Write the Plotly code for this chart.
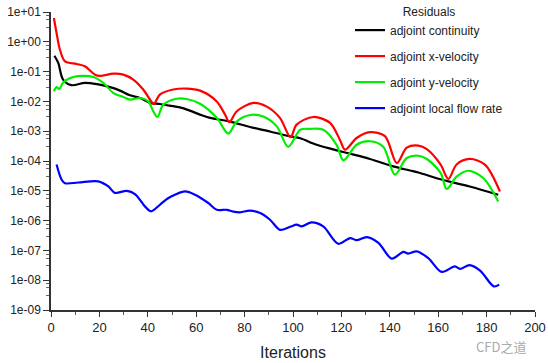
import plotly.graph_objects as go

# ---- data ----
cont_x = [1.4, 3, 5, 8.5, 14, 19, 24.4, 28.5, 32.6, 36.8, 41, 45, 49, 53.3, 57.4, 61.6, 65.7, 74, 82.2, 90.5, 98.8, 103, 109.8, 120.8, 131.8, 141.4, 148.3, 151.8, 162, 173, 184.8]
cont_y = [0.34, 0.195, 0.054, 0.035, 0.042, 0.038, 0.030, 0.023, 0.016, 0.013, 0.0089, 0.0082, 0.0072, 0.0063, 0.0049, 0.0036, 0.0028, 0.0021, 0.00138, 0.00098, 0.00067, 0.00058, 0.00035, 0.0002, 0.000117, 6.6e-5, 4.8e-5, 4.1e-5, 2.3e-5, 1.4e-5, 7.4e-6]

xvel_x = [1.2, 2.3, 3.7, 5.8, 10.6, 14, 18.2, 20.2, 25.8, 29.9, 34, 38.1, 41.6, 42.5, 45, 50.5, 56, 61.6, 68.5, 72, 73.7, 76.7, 83.6, 89, 94.6, 99, 101.5, 108.4, 115.3, 119.4, 121.5, 126.3, 131.8, 138, 142.9, 147, 151.8, 155.3, 161, 164.2, 167.6, 173, 179.3, 185.5]
xvel_y = [6.3, 1.97, 0.54, 0.22, 0.18, 0.15, 0.079, 0.072, 0.085, 0.079, 0.054, 0.025, 0.0095, 0.0081, 0.017, 0.025, 0.027, 0.023, 0.01, 0.0035, 0.002, 0.0046, 0.0089, 0.0068, 0.0028, 0.00063, 0.00166, 0.003, 0.0019, 0.00051, 0.00024, 0.00059, 0.00093, 0.00068, 8.5e-5, 0.00028, 0.00033, 0.00025, 7.6e-5, 2.5e-5, 7.6e-5, 0.000117, 7.6e-5, 9.5e-6]

yvel_x = [1.2, 2.3, 3.4, 5.1, 9.2, 13.4, 17.5, 21.6, 25.8, 29.9, 32.6, 36.8, 40.2, 42.3, 44, 46.4, 52, 56, 61.6, 68.5, 73.3, 76.7, 82.2, 87.7, 93.3, 98, 103, 107, 112.5, 118, 120.8, 126.3, 131.8, 137.3, 142.1, 147, 151.8, 155.3, 161, 163.5, 167.6, 172.4, 178.6, 184.8]
yvel_y = [0.022, 0.030, 0.026, 0.044, 0.066, 0.072, 0.066, 0.042, 0.019, 0.014, 0.0115, 0.013, 0.01, 0.0046, 0.003, 0.0078, 0.0123, 0.012, 0.0083, 0.0028, 0.00083, 0.0021, 0.0035, 0.0031, 0.00145, 0.0003, 0.00112, 0.0012, 0.00112, 0.00035, 0.000105, 0.00035, 0.00046, 0.0003, 3.5e-5, 0.000126, 0.00015, 0.000117, 4e-5, 1.15e-5, 3e-5, 4.7e-5, 2.7e-5, 4.4e-6]

flow_x = [2.3, 4.4, 5.8, 11.3, 19.5, 23.7, 26.4, 31.3, 34.7, 38.8, 41.3, 45, 48.2, 51.2, 55.4, 59.5, 65, 68.5, 72.6, 75.3, 78.1, 82.2, 86.4, 90.5, 94.6, 98.8, 101.5, 103.6, 107.7, 112.5, 118.7, 123.6, 126.3, 130.5, 135.3, 140.8, 145.6, 147.6, 151.1, 155.9, 161.4, 166.9, 169, 173, 177.3, 183, 185.2]
flow_y = [7.6e-5, 2.35e-5, 1.8e-5, 1.9e-5, 2.08e-5, 1.4e-5, 8.5e-6, 1e-5, 7.8e-6, 3e-6, 2.05e-6, 3.4e-6, 5.5e-6, 7.4e-6, 9.5e-6, 7.4e-6, 3.9e-6, 2.3e-6, 2.3e-6, 2e-6, 1.9e-6, 2.15e-6, 1.8e-6, 1.07e-6, 4.9e-7, 6.2e-7, 7.3e-7, 6.4e-7, 8.7e-7, 6.4e-7, 1.67e-7, 2.6e-7, 2.2e-7, 2.8e-7, 1.78e-7, 5.3e-8, 8.9e-8, 7.8e-8, 9.3e-8, 5.5e-8, 1.9e-8, 2.9e-8, 2.4e-8, 3.2e-8, 2.1e-8, 6.2e-9, 7.1e-9]

series_names = ["adjoint continuity", "adjoint x-velocity", "adjoint y-velocity", "adjoint local flow rate"]
series_colors = ["#000000", "#ff0000", "#00ee00", "#0000ff"]

y_tick_exps = list(range(1, -10, -1))
y_tick_vals = [10.0 ** e for e in y_tick_exps]
y_tick_text = ["1e+%02d" % e if e >= 0 else "1e-%02d" % (-e) for e in y_tick_exps]
minor_factors = [3, 5.5, 7.5]
y_minor_vals = [f * 10.0 ** e for e in range(-9, 1) for f in minor_factors]

FONT = "Liberation Sans, Arial, sans-serif"

fig = go.Figure()
for i, (xs, ys) in enumerate([(cont_x, cont_y), (xvel_x, xvel_y), (yvel_x, yvel_y), (flow_x, flow_y)]):
    fig.add_trace(go.Scatter(
        x=xs, y=ys, mode="lines", name=series_names[i],
        line=dict(color=series_colors[i], width=2.2, shape="spline", smoothing=0.9),
        legendgroup=str(i),
    ))

fig.update_layout(
    width=548, height=363,
    margin=dict(l=51, r=13, t=12, b=53, autoexpand=False),
    paper_bgcolor="white", plot_bgcolor="white",
    font=dict(family=FONT, size=12, color="#222"),
    showlegend=True,
    legend=dict(
        xref="container", yref="container",
        x=350 / 548, xanchor="left", y=1 + 1 / 363, yanchor="top",
        bgcolor="rgba(0,0,0,0)",
        font=dict(family=FONT, size=12, color="#222"),
        title=dict(text="Residuals", side="top center", font=dict(family=FONT, size=12, color="#222")),
        traceorder="grouped", tracegroupgap=7,
        itemwidth=30,
    ),
    xaxis=dict(
        range=[0, 200], dtick=20, tick0=0,
        showgrid=False, zeroline=False, automargin=False,
        showline=True, linecolor="#333", linewidth=1.5,
        ticks="outside", ticklen=5, tickcolor="#333", tickwidth=1,
        minor=dict(dtick=10, ticks="outside", ticklen=3, tickcolor="#555", showgrid=False),
        tickfont=dict(family=FONT, size=13, color="#222"),
        title=dict(text="Iterations", font=dict(family=FONT, size=16, color="#222"), standoff=12),
    ),
    yaxis=dict(
        type="log", range=[-9, 1],
        tickvals=y_tick_vals, ticktext=y_tick_text,
        showgrid=False, zeroline=False, automargin=False,
        showline=True, linecolor="#333", linewidth=1.5,
        ticks="outside", ticklen=6, tickcolor="#333", tickwidth=1,
        minor=dict(tickvals=y_minor_vals, ticks="outside", ticklen=3, tickcolor="#666", showgrid=False),
        tickfont=dict(family=FONT, size=12, color="#222"),
    ),
)

fig.add_annotation(
    text="CFD之道", xref="paper", yref="paper", x=0.985, y=-0.085,
    xanchor="right", yanchor="top", showarrow=False,
    font=dict(family="Noto Sans CJK SC, sans-serif", size=13, color="#aaaaaa"),
)

fig.write_html(
    "out.html",
    config={"displayModeBar": False},
    post_script="document.body.style.margin='0';document.body.style.overflow='hidden';",
)
